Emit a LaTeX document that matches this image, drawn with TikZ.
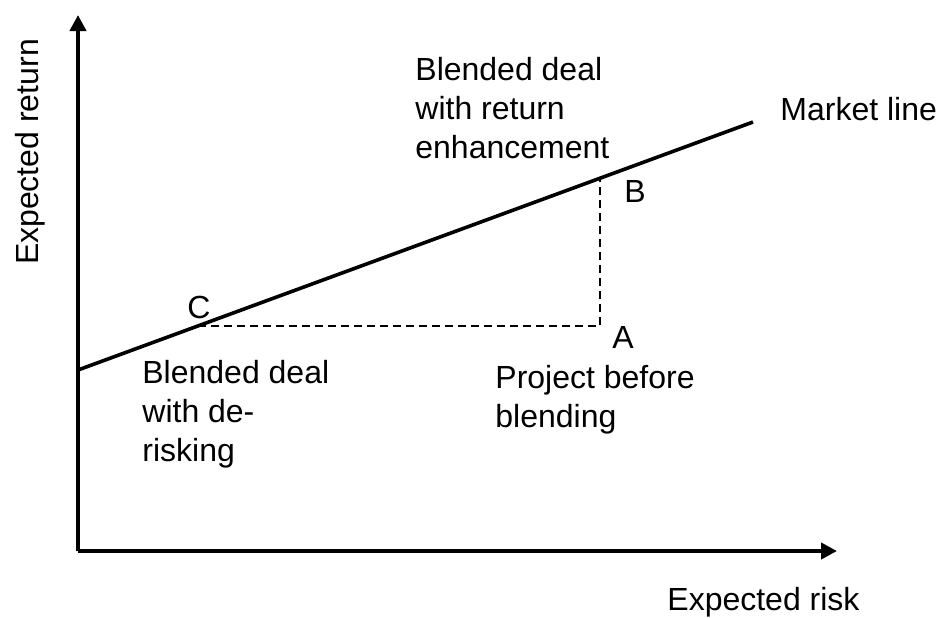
\documentclass[tikz,border=0pt]{standalone}
\usepackage{fontspec}
\setmainfont{Liberation Sans}
\usepackage{tikz}
\usetikzlibrary{arrows.meta, positioning}

\begin{document}
\begin{tikzpicture}[x=0.5pt, y=-0.5pt,
    txt/.style={inner sep=0pt, align=left, font=\fontsize{16}{19.5}\selectfont},
    axis/.style={line width=2pt, -{Triangle[length=8pt, width=8pt]}},
    guide/.style={line width=1.1pt, dash pattern=on 4pt off 2.5pt}]
  \useasboundingbox (0,0) rectangle (940,617);
  \coordinate (O) at (78,551);
  \coordinate (Ytop) at (78,15);
  \coordinate (Xend) at (837,551);
  \coordinate (ML0) at (78,370);
  \coordinate (ML1) at (753,122);
  \coordinate (C) at (198,326);
  \coordinate (A) at (600,326);
  \coordinate (B) at (600,178);
  \draw[axis] (O) -- (Ytop);
  \draw[axis] (O) -- (Xend);
  \draw[line width=1.8pt] (ML0) -- (ML1);
  \draw[guide] (C) -- (A) -- (B);
  \node[txt, rotate=90, anchor=base] (ylab) at (38,152) {Expected return};
  \node[txt, anchor=base west] (xlab) at (667,610) {Expected risk};
  \node[txt, anchor=base west] (mlab) at (780,120) {Market line};
  \node[txt, anchor=base] (labC) at (199,318) {C};
  \node[txt, anchor=base] (labB) at (635,202) {B};
  \node[txt, anchor=base] (labA) at (623,348) {A};
  \node[txt, anchor=base west] (enh) at (415,158) {Blended deal\\with return\\enhancement};
  \node[txt, anchor=base west] (proj) at (495,427) {Project before\\blending};
  \node[txt, anchor=base west] (derisk) at (142,461) {Blended deal\\with de-\\risking};
\end{tikzpicture}
\end{document}
